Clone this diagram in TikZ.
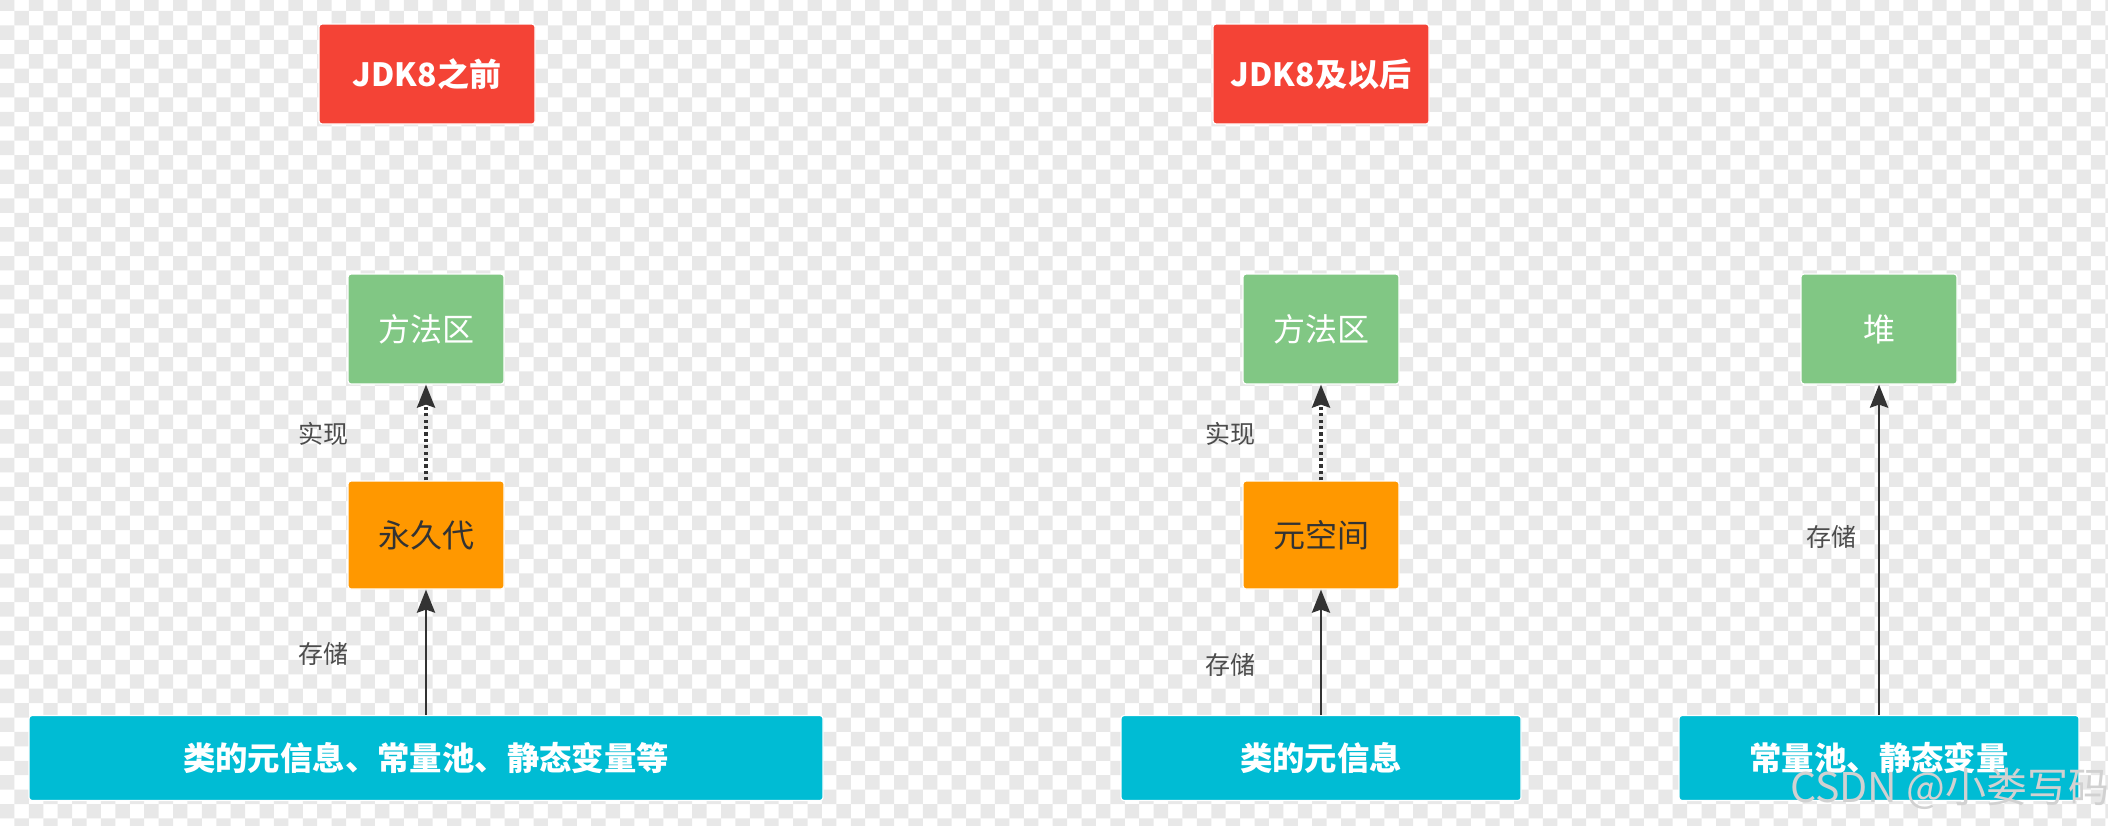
\documentclass[tikz,border=0pt]{standalone}
\usepackage{fontspec}
\newfontfamily\cjk{Noto Sans CJK SC}
\usetikzlibrary{arrows.meta}
\definecolor{titlered}{HTML}{F44336}
\definecolor{areagreen}{HTML}{81C784}
\definecolor{genorange}{HTML}{FF9800}
\definecolor{datacyan}{HTML}{00BCD4}
\definecolor{linegray}{HTML}{333333}
\definecolor{checkgray}{HTML}{E8E8E8}
\begin{document}
\begin{tikzpicture}[
x=0.5pt,y=-0.5pt,
every node/.style={font=\cjk},
box/.style={rounded corners=1.5pt,draw=white,line width=0.6pt,inner sep=0pt},
title/.style={box,fill=titlered,text=white,minimum width=108pt,minimum height=50pt,font=\cjk\bfseries\fontsize{16pt}{18pt}\selectfont},
area/.style={box,fill=areagreen,text=white,minimum width=78pt,minimum height=55pt,font=\cjk\fontsize{16pt}{18pt}\selectfont},
gen/.style={box,fill=genorange,text=black!80,minimum width=78pt,minimum height=54pt,font=\cjk\fontsize{16pt}{18pt}\selectfont},
data/.style={box,fill=datacyan,text=white,minimum height=42.5pt,font=\cjk\bfseries\fontsize{16.2pt}{19pt}\selectfont},
lbl/.style={text=black!70,font=\cjk\fontsize{12.5pt}{15pt}\selectfont},
store/.style={-{Stealth[length=11.5pt,width=9pt,inset=1.5pt]},line width=1.45pt,draw=linegray},
impl/.style={store,line width=1.6pt,dash pattern=on 1.6pt off 1.6pt}
]
\useasboundingbox (0,0) rectangle (2108,825);
\fill[white] (0,0) rectangle (2108,825);
\begin{scope}
\clip (0,0) rectangle (2108,825);
\foreach \r in {0,...,57}
  \fill[checkgray] \foreach \c in {0,2,...,146} {({(\c+mod(\r,2))*14.42},{\r*14.42-3.5}) rectangle ++(14.42,14.42)};
\end{scope}

\node[title] (t1) at (427,74) {JDK8之前};
\node[title] (t2) at (1321,74) {JDK8及以后};

\node[area] (ma1) at (426,329) {方法区};
\node[gen] (pg) at (426,535) {永久代};
\node[data,minimum width=397pt] (d1) at (426,758) {类的元信息、常量池、静态变量等};
\draw[impl] (pg) -- (ma1);
\draw[store] (d1) -- (pg);
\node[lbl] (l1) at (323,434) {实现};
\node[lbl] (l2) at (323,654) {存储};

\node[area] (ma2) at (1321,329) {方法区};
\node[gen] (ms) at (1321,535) {元空间};
\node[data,minimum width=200pt] (d2) at (1321,758) {类的元信息};
\draw[impl] (ms) -- (ma2);
\draw[store] (d2) -- (ms);
\node[lbl] (l3) at (1230,434) {实现};
\node[lbl] (l4) at (1230,665) {存储};

\node[area] (hp) at (1879,329) {堆};
\node[data,minimum width=200pt] (d3) at (1879,758) {常量池、静态变量};
\draw[store] (d3) -- (hp);
\node[lbl] (l5) at (1831,537) {存储};

\node[text=white!82!black,font=\cjk\fontsize{20.5pt}{24pt}\selectfont,anchor=base west] (wm) at (1783,802) {CSDN @小娄写码};
\end{tikzpicture}
\end{document}
